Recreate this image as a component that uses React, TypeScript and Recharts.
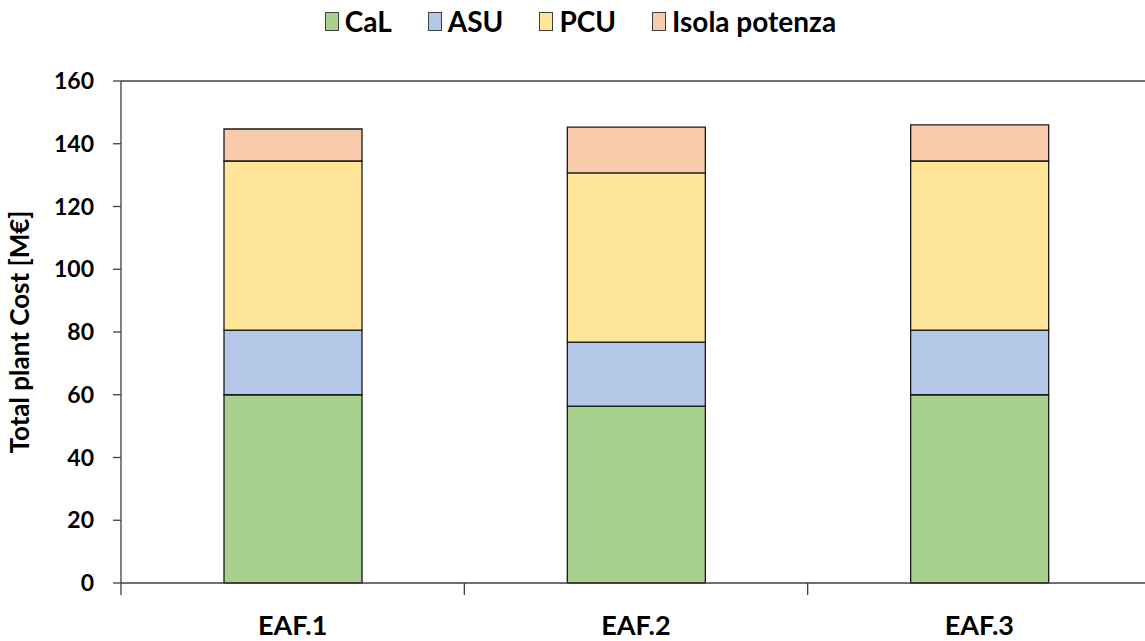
import { BarChart, Bar, XAxis, YAxis, ReferenceLine } from "recharts"

const categories = ["EAF.1", "EAF.2", "EAF.3"]
const calValues = [60.0, 56.4, 60.0]
const asuValues = [20.6, 20.4, 20.6]
const pcuValues = [53.9, 53.9, 53.9]
const isolaValues = [10.2, 14.6, 11.5]
const yTicks = [0, 20, 40, 60, 80, 100, 120, 140, 160]

const series = [
    { key: "cal", name: "CaL", color: "#A9D18E" },
    { key: "asu", name: "ASU", color: "#B4C7E7" },
    { key: "pcu", name: "PCU", color: "#FFE699" },
    { key: "isola", name: "Isola potenza", color: "#F8CBAD" },
]

const data = categories.map((name, i) => ({
    name,
    cal: calValues[i],
    asu: asuValues[i],
    pcu: pcuValues[i],
    isola: isolaValues[i],
}))

const FONT = "Lato, 'Open Sans', sans-serif"
const AXIS = "#404040"
const PLOT_W = 1030
const BAND = PLOT_W / categories.length

const XTick = (props: any) => {
    const { x, y, payload, index } = props
    const left = x - BAND / 2
    return (
        <g>
            <line x1={left} y1={y} x2={left} y2={y + 12} stroke={AXIS} strokeWidth={1.3} />
            {index === categories.length - 1 && (
                <line x1={left + BAND} y1={y} x2={left + BAND} y2={y + 12} stroke={AXIS} strokeWidth={1.3} />
            )}
            <text x={x} y={y + 52} textAnchor="middle" fontFamily={FONT} fontWeight={700} fontSize={27} fill="#000">
                {payload.value}
            </text>
        </g>
    )
}

export default function App() {
    return (
        <div style={{ position: "absolute", left: 0, top: 0, width: 1145, height: 641, overflow: "hidden", background: "#fff" }}>
            <div
                style={{
                    position: "absolute",
                    top: 4,
                    left: 8,
                    width: 1145,
                    display: "flex",
                    justifyContent: "center",
                    gap: 36,
                    fontFamily: FONT,
                    fontWeight: 700,
                    fontSize: 28,
                }}
            >
                {series.map((s) => (
                    <div key={s.key} style={{ display: "flex", alignItems: "center", gap: 6 }}>
                        <span style={{ width: 12, height: 17, background: s.color, border: "1.5px solid #404040" }} />
                        <span>{s.name}</span>
                    </div>
                ))}
            </div>
            <BarChart width={1152} height={641} data={data} margin={{ top: 81, right: 1, bottom: 0, left: 0 }}>
                <XAxis
                    dataKey="name"
                    tickLine={false}
                    tickSize={0}
                    tickMargin={0}
                    axisLine={{ stroke: AXIS, strokeWidth: 1.3 }}
                    tick={<XTick />}
                    height={58}
                    interval={0}
                />
                <YAxis
                    width={121}
                    domain={[0, 160]}
                    ticks={yTicks}
                    interval={0}
                    tickSize={8}
                    tickMargin={19}
                    tickLine={{ stroke: AXIS, strokeWidth: 1.3 }}
                    axisLine={{ stroke: AXIS, strokeWidth: 1.3 }}
                    tick={{ fontFamily: FONT, fontWeight: 700, fontSize: 23, fill: "#000" }}
                    label={{
                        value: "Total plant Cost [M€]",
                        angle: -90,
                        position: "insideLeft",
                        offset: 20,
                        style: { textAnchor: "middle", fontFamily: FONT, fontWeight: 700, fontSize: 26, fill: "#000" },
                    }}
                />
                <ReferenceLine y={160} stroke={AXIS} strokeWidth={1.3} />
                {series.map((s) => (
                    <Bar
                        key={s.key}
                        dataKey={s.key}
                        name={s.name}
                        stackId="a"
                        fill={s.color}
                        stroke="#1a1a1a"
                        strokeWidth={1.3}
                        barSize={138}
                        isAnimationActive={false}
                    />
                ))}
            </BarChart>
        </div>
    )
}
